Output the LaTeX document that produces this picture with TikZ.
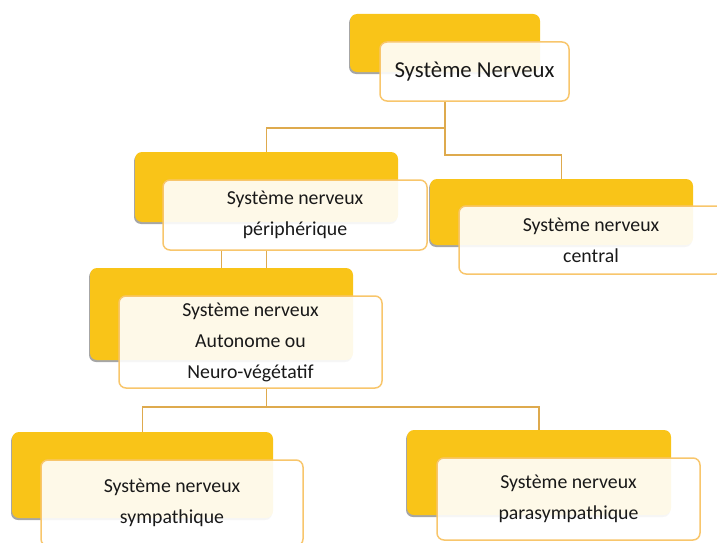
\documentclass[tikz,border=0pt]{standalone}
\usepackage{fontspec}
\setmainfont{Carlito}
\usetikzlibrary{shadows}
\definecolor{smgold}{RGB}{249,196,24}
\definecolor{smedge}{RGB}{248,198,108}
\definecolor{smline}{RGB}{222,170,78}

\begin{document}
\begin{tikzpicture}[x=1pt, y=-1pt,
    back/.style={rounded corners=7pt, fill=smgold, inner sep=0pt, minimum width=263pt,
      drop shadow={shadow xshift=-1pt, shadow yshift=-2pt, fill=black, opacity=0.35}},
    front/.style={draw=smedge, line width=1.5pt, rounded corners=7pt, fill=white, fill opacity=0.9,
      text opacity=1, text=black!90, minimum width=263pt, inner sep=0pt, align=center,
      font=\fontsize{19.8}{31}\selectfont},
    link/.style={smline, line width=1.5pt}
  ]
    \useasboundingbox (0,0) rectangle (717,543);

    \node[back, minimum width=190pt, minimum height=58pt] (sn-back) at (445,43) {};
    \node[front, minimum width=189pt, minimum height=59pt, font=\fontsize{22.8}{27}\selectfont] (sn) at (474.5,71.5) {Système Nerveux};

    \node[back, minimum height=70pt] (peri-back) at (266.5,187) {};
    \node[front, minimum width=264pt, minimum height=70pt] (peri) at (295,215) {Système nerveux\\périphérique};

    \node[back, minimum height=66pt] (cent-back) at (561.5,212) {};
    \node[front, minimum width=264pt, minimum height=68pt] (cent) at (591,240) {Système nerveux\\central};

    \node[back, minimum height=92pt] (auto-back) at (221.5,314) {};
    \node[front, minimum height=92pt] (auto) at (250.5,342) {Système nerveux\\Autonome ou\\Neuro-végétatif};

    \node[back, minimum width=261pt, minimum height=86pt] (symp-back) at (142.5,475) {};
    \node[front, minimum width=262pt, minimum height=86pt] (symp) at (172,503) {Système nerveux\\sympathique};

    \node[back, minimum width=264pt, minimum height=85pt] (para-back) at (539,472.5) {};
    \node[front, minimum height=82pt] (para) at (568.5,499) {Système nerveux\\parasympathique};

    % connectors
    \draw[link] (sn.south -| sn-back.south) -- ++(0,53) -| (cent-back.north);
    \draw[link] (sn.south -| sn-back.south) ++(0,26) -| (peri-back.north);
    \draw[link] (peri.south -| peri-back.south) -- (auto-back.north -| peri-back.south);
    \draw[link] (peri.south -| auto-back.north) -- (auto-back.north);
    \draw[link] (auto.south -| peri-back.south) -- ++(0,18) coordinate (fork);
    \draw[link] (fork) -| (symp-back.north);
    \draw[link] (fork) -| (para-back.north);
\end{tikzpicture}
\end{document}
